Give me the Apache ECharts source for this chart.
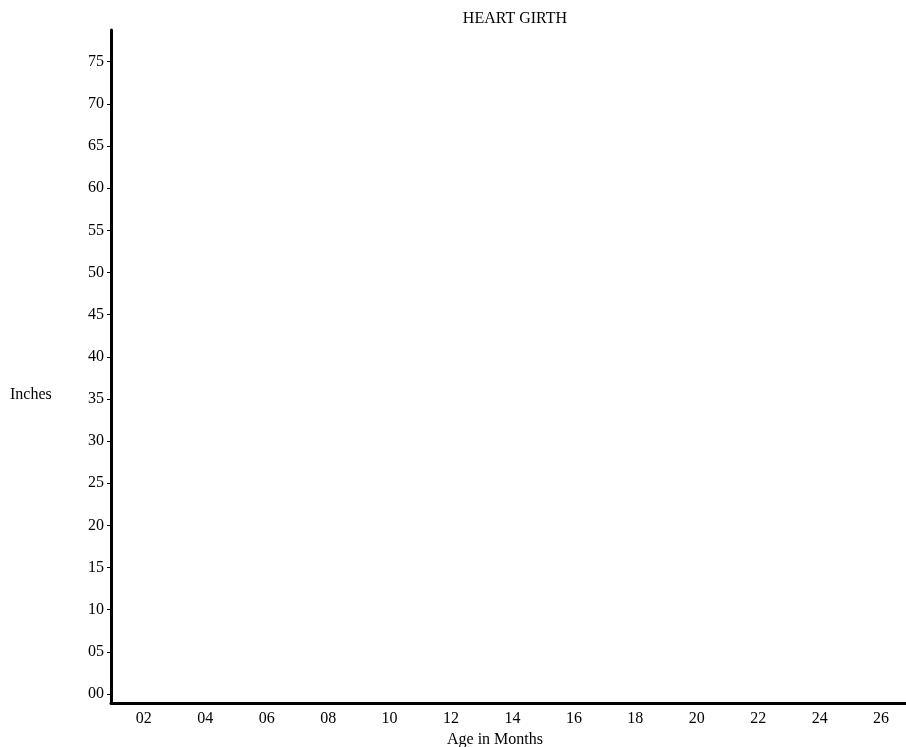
<!DOCTYPE html>
<html>
<head>
<meta charset="utf-8">
<script src="https://cdn.jsdelivr.net/npm/echarts@6/dist/echarts.min.js"></script>
<style>html,body{margin:0;padding:0;background:#fff}#c{width:906px;height:747px}</style>
</head>
<body>
<div id="c"></div>
<script>
const chartTitle = 'HEART GIRTH';
const xAxisTitle = 'Age in Months';
const yAxisTitle = 'Inches';
const xTickValues = [2, 4, 6, 8, 10, 12, 14, 16, 18, 20, 22, 24, 26];
const yTickValues = [0, 5, 10, 15, 20, 25, 30, 35, 40, 45, 50, 55, 60, 65, 70, 75];
const seriesValues = []; // blank form: no data plotted

const pad = v => (v < 10 ? '0' : '') + v;
const font = 'Liberation Serif';
const chart = echarts.init(document.getElementById('c'), null, {renderer: 'canvas'});
chart.setOption({
  animation: false,
  backgroundColor: '#fff',
  title: [
    {text: chartTitle, left: 510, top: 6, textAlign: 'center',
     textStyle: {fontFamily: font, fontSize: 16, fontWeight: 'normal', color: '#000'}},
    {text: yAxisTitle, left: 5, top: 382,
     textStyle: {fontFamily: font, fontSize: 16, fontWeight: 'normal', color: '#000'}},
    {text: xAxisTitle, left: 490, top: 727, textAlign: 'center',
     textStyle: {fontFamily: font, fontSize: 16, fontWeight: 'normal', color: '#000'}}
  ],
  grid: {left: 111, right: 0, top: 30, bottom: 44, containLabel: false},
  xAxis: {
    type: 'value', min: 0.93, max: 26.81,
    axisLine: {show: true, onZero: false, lineStyle: {color: '#000', width: 3}},
    axisTick: {show: false},
    splitLine: {show: false},
    axisLabel: {customValues: xTickValues, formatter: v => pad(v), margin: 8,
      fontFamily: font, fontSize: 16, color: '#000'}
  },
  yAxis: {
    type: 'value', min: -1.07, max: 78.76,
    axisLine: {show: true, onZero: false, lineStyle: {color: '#000', width: 3}},
    axisTick: {show: true, customValues: yTickValues, length: 4, lineStyle: {color: '#000', width: 1}},
    splitLine: {show: false},
    axisLabel: {customValues: yTickValues, formatter: v => pad(v), margin: 7,
      fontFamily: font, fontSize: 16, color: '#000'}
  },
  series: [{type: 'line', data: seriesValues, symbol: 'none'}]
});
</script>
</body>
</html>
